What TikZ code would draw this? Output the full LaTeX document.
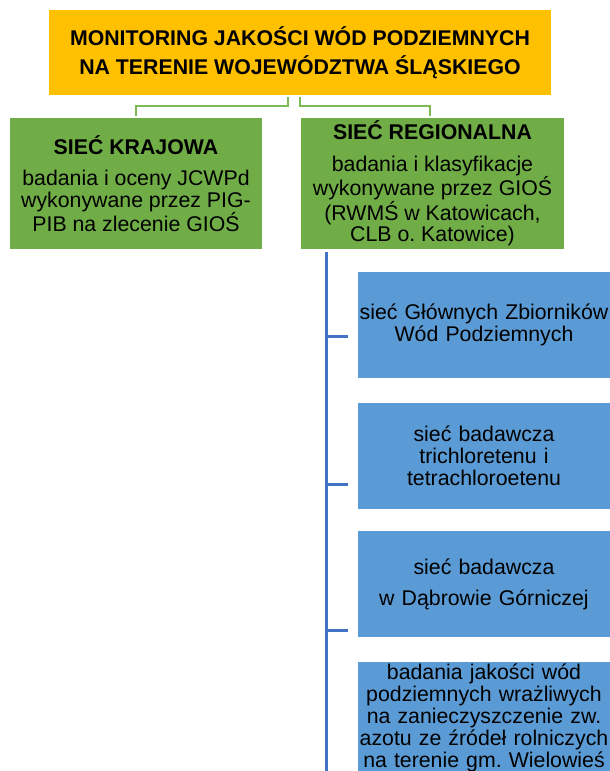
\documentclass[tikz,border=0pt]{standalone}
\usepackage{fontspec}
\setmainfont{Liberation Sans}
\frenchspacing
\definecolor{ora}{HTML}{FFC000}
\definecolor{grn}{HTML}{70AD47}
\definecolor{gln}{HTML}{7DB956}
\definecolor{bbox}{HTML}{5B9BD5}
\definecolor{bln}{HTML}{4472C4}
\begin{document}
\begin{tikzpicture}[x=1pt,y=-1pt,
  box/.style={rectangle,inner sep=0pt,align=center,text=black},
  titlebox/.style={box,fill=ora,minimum width=502pt,minimum height=85pt,font=\fontsize{21.3}{29.5}\selectfont\bfseries},
  greenbox/.style={box,fill=grn,minimum height=131pt,font=\fontsize{21.3}{21.5}\selectfont},
  bluebox/.style={box,fill=bbox,minimum width=252pt,text width=252pt,minimum height=106pt,font=\fontsize{21.3}{22}\selectfont},
  gline/.style={draw=gln,line width=2.6pt},
  bline/.style={draw=bln,line width=3pt}]
\useasboundingbox (0,0) rectangle (610,771);
\clip (0,0) rectangle (610,771);

\node[titlebox] (title) at (300,52.5) {MONITORING JAKOŚCI WÓD PODZIEMNYCH\\NA TERENIE WOJEWÓDZTWA ŚLĄSKIEGO};

\node[greenbox,minimum width=252pt] (krajowa) at (136,183.5)
  {\textbf{SIEĆ KRAJOWA}\\[10pt]badania i oceny JCWPd\\wykonywane przez PIG-\\PIB na zlecenie GIOŚ};
\node[greenbox,minimum width=263pt] (regional) at (432.5,183.5)
  {\textbf{SIEĆ REGIONALNA}\\[10pt]badania i klasyfikacje\\wykonywane przez GIOŚ\\(RWMŚ w Katowicach,\\CLB o. Katowice)};

\node[bluebox] (b1) at (484,325) {sieć Głównych Zbiorników\\Wód Podziemnych};
\node[bluebox] (b2) at (484,456) {sieć badawcza\\trichloretenu i\\tetrachloroetenu};
\node[bluebox,font=\fontsize{21.3}{31}\selectfont] (b3) at (484,584) {sieć badawcza\\w Dąbrowie Górniczej};
\node[bluebox,anchor=north,minimum height=0pt,inner ysep=1.5pt] (b4) at (484,662)
  {badania jakości wód\\podziemnych wrażliwych\\na zanieczyszczenie zw.\\azotu ze źródeł rolniczych\\na terenie gm. Wielowieś\\[12pt]};

% green connectors
\coordinate (gl) at (288,97);
\coordinate (gr) at (300,97);
\draw[gline] (gl) |- (krajowa.north |- 0,106) -- ([yshift=2pt]krajowa.north);
\draw[gline] (gr) |- (430,106) coordinate (grh) -- ([yshift=2pt]grh |- regional.north);

% blue trunk and ticks
\coordinate (vtop) at (326,252);
\coordinate (vbot) at (326,775);
\draw[bline] (vtop) -- (vbot);
\coordinate (t1) at (348,336);
\coordinate (t2) at (348,484);
\coordinate (t3) at (348,630);
\draw[bline] (vtop |- t1) -- (t1);
\draw[bline] (vtop |- t2) -- (t2);
\draw[bline] (vtop |- t3) -- (t3);
\end{tikzpicture}
\end{document}
